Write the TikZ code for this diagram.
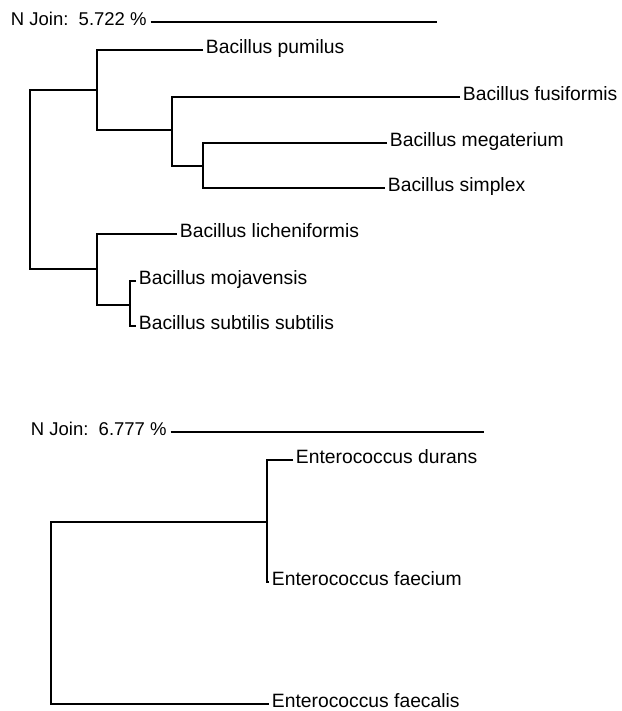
\documentclass[tikz,border=0pt]{standalone}
\usepackage{fontspec}
\setmainfont{Liberation Sans}
\begin{document}
\begin{tikzpicture}[x=1pt,y=-1pt,line width=1.8pt,
  leaf/.style={anchor=west,inner xsep=2pt,inner ysep=0pt,text height=0.716em,text depth=0pt,font=\fontsize{19.3}{22}\selectfont},
  scalelbl/.style={anchor=west,inner xsep=3pt,inner ysep=0pt,text height=0.716em,text depth=0pt,font=\fontsize{18.5}{22}\selectfont}]
\useasboundingbox (0,0) rectangle (621,711);
% ---- top tree ----
\node[scalelbl] (s1) at (7,22) {N Join:\ \ 5.722 \%};
\coordinate (s1end) at (437,22);
\draw (s1.east) -- (s1end);

\node[leaf] (pum) at (203,50) {Bacillus pumilus};
\node[leaf] (fus) at (460,97) {Bacillus fusiformis};
\node[leaf] (meg) at (387,143) {Bacillus megaterium};
\node[leaf] (sim) at (385,188) {Bacillus simplex};
\node[leaf] (lic) at (177,234) {Bacillus licheniformis};
\node[leaf] (moj) at (136,281) {Bacillus mojavensis};
\node[leaf] (sub) at (136,326) {Bacillus subtilis subtilis};

\coordinate (R) at (30,180);
\coordinate (A) at (97,90);
\coordinate (B) at (172,130);
\coordinate (C) at (203,166);
\coordinate (D) at (97,269);
\coordinate (E) at (130,305);

\draw (meg.west) -| (C) |- (sim.west);
\draw (fus.west) -| (B) |- (C);
\draw (pum.west) -| (A) |- (B);
\draw (moj.west) -| (E) |- (sub.west);
\draw (lic.west) -| (D) |- (E);
\draw (A) -- (R |- A) -- (R |- D) -- (D);

% ---- bottom tree ----
\node[scalelbl] (s2) at (27,432) {N Join:\ \ 6.777 \%};
\coordinate (s2end) at (484,432);
\draw (s2.east) -- (s2end);

\node[leaf] (dur) at (293,460) {Enterococcus durans};
\node[leaf] (fcm) at (269,582) {Enterococcus faecium};
\node[leaf] (fcl) at (269,704) {Enterococcus faecalis};

\coordinate (R2) at (51,600);
\coordinate (F) at (267,522);

\draw (dur.west) -| (F) |- (fcm.west);
\draw (F) -- (R2 |- F) |- (fcl.west);
\end{tikzpicture}
\end{document}
